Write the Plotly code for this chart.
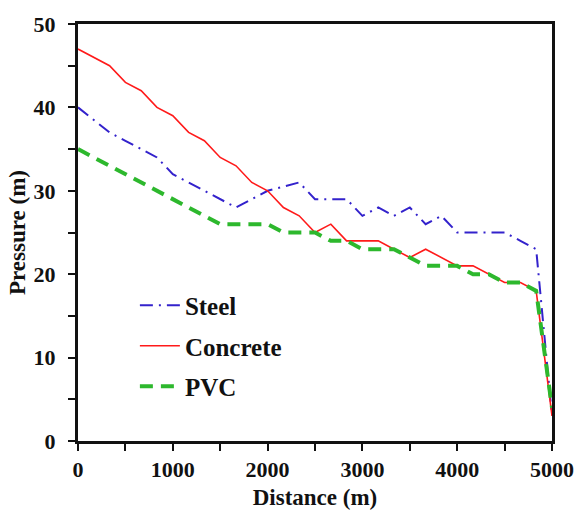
import plotly.graph_objects as go

distance = [0, 167, 333, 500, 667, 833, 1000, 1167, 1333, 1500, 1667, 1833, 2000,
            2167, 2333, 2500, 2667, 2833, 3000, 3167, 3333, 3500, 3667, 3833, 4000,
            4167, 4333, 4500, 4667, 4833, 5000]
steel = [40, 38.5, 37, 36, 35, 34, 32, 31, 30, 29, 28, 29, 30,
         30.5, 31, 29, 29, 29, 27, 28, 27, 28, 26, 27, 25,
         25, 25, 25, 24, 23, 3]
concrete = [47, 46, 45, 43, 42, 40, 39, 37, 36, 34, 33, 31, 30,
            28, 27, 25, 26, 24, 24, 24, 23, 22, 23, 22, 21,
            21, 20, 19, 19, 18, 3]
pvc = [35, 34, 33, 32, 31, 30, 29, 28, 27, 26, 26, 26, 26,
       25, 25, 25, 24, 24, 23, 23, 23, 22, 21, 21, 21,
       20, 20, 19, 19, 18, 4]

FONT = "Liberation Serif, Times New Roman, serif"

fig = go.Figure()
fig.add_trace(go.Scatter(x=distance, y=steel, mode="lines", name="<b>Steel</b>",
                         legendgroup="a",
                         line=dict(color="#3322cc", width=2, dash="13px,6px,2px,6px")))
fig.add_trace(go.Scatter(x=distance, y=concrete, mode="lines", name="<b>Concrete</b>",
                         legendgroup="b",
                         line=dict(color="#ff1a1a", width=1.6)))
fig.add_trace(go.Scatter(x=distance, y=pvc, mode="lines", name="<b>PVC</b>",
                         legendgroup="c",
                         line=dict(color="#2db82d", width=4, dash="13px,8px")))

axis_common = dict(
    showgrid=False, zeroline=False, showline=True, linecolor="#111111", linewidth=3,
    mirror=True, ticks="outside", ticklen=7, tickwidth=2, tickcolor="#111111",
    tickfont=dict(family=FONT, size=22, color="#111111"),
)

fig.update_xaxes(range=[0, 5000], tickvals=[0, 1000, 2000, 3000, 4000, 5000],
                 ticktext=["<b>0</b>", "<b>1000</b>", "<b>2000</b>", "<b>3000</b>", "<b>4000</b>", "<b>5000</b>"],
                 minor=dict(dtick=500, tick0=0, ticks="outside", ticklen=7, tickwidth=2, tickcolor="#111111"),
                 title=dict(text="<b>Distance (m)</b>", font=dict(family=FONT, size=23, color="#111111"), standoff=8),
                 **axis_common)
fig.update_yaxes(range=[0, 50], tickvals=[0, 10, 20, 30, 40, 50],
                 ticktext=["<b>0</b>", "<b>10</b>", "<b>20</b>", "<b>30</b>", "<b>40</b>", "<b>50</b>"],
                 minor=dict(dtick=5, tick0=0, ticks="outside", ticklen=7, tickwidth=2, tickcolor="#111111"),
                 ticklabelstandoff=8,
                 title=dict(text="<b>Pressure (m)</b>", font=dict(family=FONT, size=23, color="#111111"), standoff=2),
                 **axis_common)

fig.update_layout(
    width=586, height=520,
    margin=dict(l=78, r=29, t=17, b=79),
    paper_bgcolor="white", plot_bgcolor="white",
    font=dict(family=FONT, size=22, color="#111111"),
    legend=dict(x=0.12, y=0.38, xanchor="left", yanchor="top",
                bgcolor="rgba(0,0,0,0)", tracegroupgap=5,
                font=dict(family=FONT, size=25, color="#111111"),
                itemwidth=40),
    showlegend=True,
)

fig.write_html("out.html")
